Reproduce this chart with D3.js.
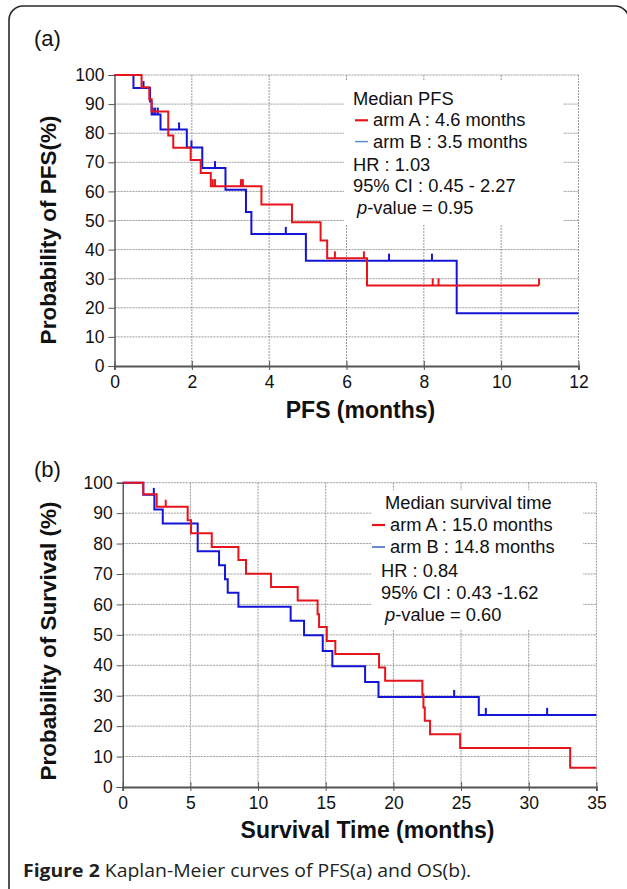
<!DOCTYPE html>
<html>
<head>
<meta charset="utf-8">
<script src="https://cdn.jsdelivr.net/npm/d3@7"></script>
<style>
  body { margin: 0; background: #fff; }
  svg text { font-family: "Liberation Sans", Arial, Helvetica, sans-serif; fill: #111; }
  .grid line { stroke: #9a9a9a; stroke-dasharray: 2,1; stroke-width: 1; }
  .caption { font-family: "Open Sans", "Noto Sans", sans-serif !important; fill: #231f20; }
</style>
</head>
<body>
<svg width="627" height="889"></svg>
<script>
// ---- Data ----
// (a) PFS, arm A (red)
const pfsTimesA = [0, 0.70, 0.90, 0.96, 1.39, 1.52, 1.97, 2.23, 2.49, 3.80, 4.59, 5.33, 5.50, 6.53];
const pfsSurvA  = [100, 95.8, 91.7, 87.5, 79.2, 75.0, 70.8, 66.3, 61.8, 55.5, 49.4, 43.1, 37.0, 27.7];
const pfsEndA = 10.98;
const pfsCensorA = [2.54, 2.60, 3.27, 3.32, 5.70, 6.45, 8.23, 8.38, 10.98];

// (a) PFS, arm B (blue)
const pfsTimesB = [0, 0.49, 0.92, 0.96, 1.19, 1.87, 2.27, 2.87, 3.40, 3.54, 4.95, 8.85];
const pfsSurvB  = [100, 95.5, 90.9, 86.4, 81.3, 75.1, 68.0, 60.6, 52.9, 45.4, 36.2, 18.1];
const pfsEndB = 12;
const pfsCensorB = [0.75, 0.99, 1.05, 1.12, 1.67, 1.99, 2.60, 4.43, 7.10, 8.21];

// (b) OS, arm A (red)
const osTimesA = [0, 1.52, 2.51, 4.80, 5.05, 6.58, 8.55, 9.11, 10.96, 12.93, 14.40, 14.51, 15.08, 15.71,
                  18.94, 19.39, 22.14, 22.22, 22.32, 22.71, 24.93, 33.06];
const osSurvA  = [100, 96.2, 92.1, 87.7, 83.4, 78.9, 74.6, 70.1, 65.7, 61.3, 56.8, 52.6, 48.0, 43.7,
                  39.3, 34.9, 30.4, 26.1, 21.8, 17.3, 12.8, 6.3];
const osEndA = 35;
const osCensorA = [3.18];

// (b) OS, arm B (blue)
const osTimesB = [0, 1.52, 2.34, 2.96, 5.54, 7.12, 7.56, 7.76, 8.55, 12.41, 13.40, 14.78, 15.49, 17.91, 18.90, 26.31];
const osSurvB  = [100, 96.0, 91.2, 86.6, 77.5, 72.9, 68.3, 63.8, 59.2, 54.6, 49.9, 44.7, 39.7, 34.5, 29.6, 23.7];
const osEndB = 35;
const osCensorB = [2.30, 24.49, 26.83, 31.36];

// Axis ticks
const pfsXTicks = [0, 2, 4, 6, 8, 10, 12];
const osXTicks = [0, 5, 10, 15, 20, 25, 30, 35];
const yTicks = [0, 10, 20, 30, 40, 50, 60, 70, 80, 90, 100];

// Legend texts
const pfsLegend = ["Median PFS", "arm A : 4.6 months", "arm B : 3.5 months", "HR : 1.03", "95% CI : 0.45 - 2.27", "-value = 0.95"];
const osLegend = ["Median survival time", "arm A : 15.0 months", "arm B : 14.8 months", "HR : 0.84", "95% CI : 0.43 -1.62", "-value = 0.60"];

const RED = "#e8141b";
const BLUE = "#1414d6";

const svg = d3.select("svg");

// Outer rounded frame (right and bottom edges run off the page)
svg.append("rect")
  .attr("x", 9).attr("y", 6)
  .attr("width", 620).attr("height", 940)
  .attr("rx", 14)
  .attr("fill", "none")
  .attr("stroke", "#2a2a2a")
  .attr("stroke-width", 1.6);

// Draws one Kaplan-Meier panel
function drawPanel(opt) {
  const x = d3.scaleLinear().domain([0, opt.xMax]).range([opt.left, opt.right]);
  const y = d3.scaleLinear().domain([0, 100]).range([opt.bottom, opt.top]);
  const g = svg.append("g");

  // gridlines
  const grid = g.append("g").attr("class", "grid");
  grid.selectAll(".h").data(yTicks.filter(d => d > 0)).enter().append("line")
    .attr("x1", opt.left).attr("x2", opt.right)
    .attr("y1", d => y(d)).attr("y2", d => y(d));
  grid.selectAll(".v").data(opt.xTicks.filter(d => d > 0)).enter().append("line")
    .attr("x1", d => x(d)).attr("x2", d => x(d))
    .attr("y1", opt.top).attr("y2", opt.bottom);

  // white legend box hides the gridlines behind the text
  g.append("rect")
    .attr("x", opt.box[0]).attr("y", opt.box[1])
    .attr("width", opt.box[2]).attr("height", opt.box[3])
    .attr("fill", "#fff");

  // axes
  const yAxis = g.append("g")
    .attr("transform", `translate(${opt.left},0)`)
    .call(d3.axisLeft(y).tickValues(yTicks).tickSize(6).tickPadding(4));
  yAxis.select(".domain").attr("stroke", "#333").attr("stroke-width", 1.2);
  yAxis.selectAll(".tick line").attr("stroke", "#555");
  yAxis.selectAll("text").attr("font-size", 17.5).attr("fill", "#111");

  const xAxis = g.append("g")
    .attr("transform", `translate(0,${opt.bottom})`)
    .call(d3.axisBottom(x).tickValues(opt.xTicks).tickSize(4).tickPadding(6));
  xAxis.select(".domain").attr("stroke", "#555").attr("stroke-width", 1.8);
  xAxis.selectAll(".tick line").attr("stroke", "#555").attr("y1", -5);
  xAxis.selectAll("text").attr("font-size", 17.5).attr("fill", "#111");

  // axis titles
  g.append("text")
    .attr("x", (opt.left + opt.right) / 2 + opt.xTitleShift)
    .attr("y", opt.xTitleY)
    .attr("text-anchor", "middle")
    .attr("font-size", 23).attr("font-weight", "bold")
    .text(opt.xTitle);
  g.append("text")
    .attr("transform", `translate(56,${opt.yTitleMid}) rotate(-90)`)
    .attr("text-anchor", "middle")
    .attr("font-size", 22.5).attr("font-weight", "bold")
    .text(opt.yTitle);

  // panel tag
  g.append("text")
    .attr("x", 34).attr("y", opt.tagY)
    .attr("font-size", 22)
    .text(opt.tag);

  // step curves and censor marks
  const line = d3.line().x(d => x(d[0])).y(d => y(d[1])).curve(d3.curveStepAfter);
  opt.series.forEach(s => {
    const pts = s.times.map((t, i) => [t, s.surv[i]]);
    pts.push([s.end, s.surv[s.surv.length - 1]]);
    g.append("path")
      .attr("d", line(pts))
      .attr("fill", "none")
      .attr("stroke", s.color)
      .attr("stroke-width", 2);
    // level of the curve at a censor time
    const level = t => s.surv[d3.bisectRight(s.times, t) - 1];
    g.selectAll(null).data(s.censor).enter().append("line")
      .attr("x1", d => x(d)).attr("x2", d => x(d))
      .attr("y1", d => y(level(d))).attr("y2", d => y(level(d)) - 7)
      .attr("stroke", s.color)
      .attr("stroke-width", 2);
  });

  // legend text
  const L = opt.legend;
  const lx = opt.legendX, ly = opt.legendY, dy = opt.legendDy;
  const fs = 18.3;
  g.append("text").attr("x", lx).attr("y", ly).attr("font-size", fs).text(L[0]);
  [[L[1], RED, 2.2], [L[2], opt.legendBlue, 1.5]].forEach((r, i) => {
    const yy = ly + dy * (i + 1);
    g.append("line")
      .attr("x1", lx + opt.dashX).attr("x2", lx + opt.dashX + 13)
      .attr("y1", yy - 6).attr("y2", yy - 6)
      .attr("stroke", r[1]).attr("stroke-width", r[2]);
    g.append("text").attr("x", lx + opt.dashX + 18).attr("y", yy).attr("font-size", fs).text(r[0]);
  });
  g.append("text").attr("x", lx + opt.statsX).attr("y", ly + dy * 3 + 2).attr("font-size", fs).text(L[3]);
  g.append("text").attr("x", lx + opt.statsX).attr("y", ly + dy * 4 + 2).attr("font-size", fs).text(L[4]);
  const pv = g.append("text").attr("x", lx + opt.statsX + 4).attr("y", ly + dy * 5 + 2).attr("font-size", fs);
  pv.append("tspan").attr("font-style", "italic").text("p");
  pv.append("tspan").text(L[5]);
}

drawPanel({
  tag: "(a)", tagY: 46,
  left: 114.5, right: 578.5, top: 75, bottom: 366,
  xMax: 12, xTicks: pfsXTicks,
  xTitle: "PFS (months)", xTitleY: 418, xTitleShift: 14,
  yTitle: "Probability of PFS(%)", yTitleMid: 230,
  box: [344, 80, 219, 145],
  legend: pfsLegend, legendX: 353, legendY: 105, legendDy: 21.3,
  dashX: 2, statsX: 0, legendBlue: "#5b8fd6",
  series: [
    { times: pfsTimesB, surv: pfsSurvB, end: pfsEndB, censor: pfsCensorB, color: BLUE },
    { times: pfsTimesA, surv: pfsSurvA, end: pfsEndA, censor: pfsCensorA, color: RED }
  ]
});

drawPanel({
  tag: "(b)", tagY: 477,
  left: 122.7, right: 596.4, top: 482.7, bottom: 787,
  xMax: 35, xTicks: osXTicks,
  xTitle: "Survival Time (months)", xTitleY: 838, xTitleShift: 8,
  yTitle: "Probability of Survival (%)", yTitleMid: 641,
  box: [372, 490, 211, 140],
  legend: osLegend, legendX: 385, legendY: 509, legendDy: 22,
  dashX: -13, statsX: -4, legendBlue: "#3a63c8",
  series: [
    { times: osTimesB, surv: osSurvB, end: osEndB, censor: osCensorB, color: BLUE },
    { times: osTimesA, surv: osSurvA, end: osEndA, censor: osCensorA, color: RED }
  ]
});

// Figure caption
const cap = svg.append("text")
  .attr("class", "caption")
  .attr("x", 23).attr("y", 877)
  .attr("font-size", 17.5)
  .attr("textLength", 448)
  .attr("lengthAdjust", "spacingAndGlyphs");
cap.append("tspan").attr("font-weight", "bold").text("Figure 2");
cap.append("tspan").text(" Kaplan-Meier curves of PFS(a) and OS(b).");
</script>
</body>
</html>
